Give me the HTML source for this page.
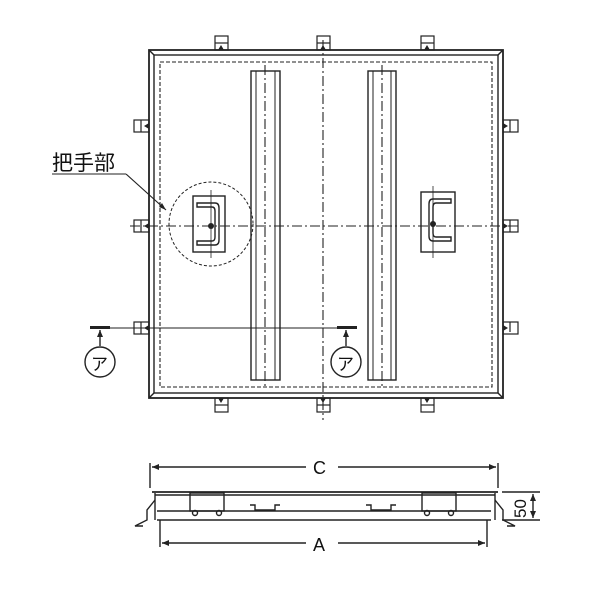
<!DOCTYPE html>
<html><head><meta charset="utf-8"><style>body{margin:0;background:#fff}svg{display:block}</style></head><body>
<svg width="600" height="600" viewBox="0 0 600 600" xmlns="http://www.w3.org/2000/svg" font-family="Liberation Sans, Noto Sans CJK JP, sans-serif">
<g fill="none" stroke="#222" stroke-width="1.4">
<rect x="149" y="50" width="354" height="348" stroke-width="1.8"/>
<rect x="154" y="55" width="344" height="338"/>
<line x1="149" y1="50" x2="154" y2="55"/><line x1="503" y1="50" x2="498" y2="55"/>
<line x1="149" y1="398" x2="154" y2="393"/><line x1="503" y1="398" x2="498" y2="393"/>
<rect x="160" y="62" width="332" height="325" stroke-dasharray="4,2" stroke-width="1.1"/>
<rect x="251" y="71" width="29" height="309"/>
<rect x="256" y="71" width="19" height="309" stroke-width="1"/>
<rect x="368" y="71" width="28" height="309"/>
<rect x="373" y="71" width="18" height="309" stroke-width="1"/>
<g stroke-dasharray="10,3,2,3" stroke-width="1.1">
<line x1="323" y1="40" x2="323" y2="420"/>
<line x1="265" y1="65" x2="265" y2="388"/>
<line x1="382" y1="65" x2="382" y2="388"/>
<line x1="130" y1="226" x2="520" y2="226"/>
</g>
<line x1="93" y1="328" x2="348" y2="328" stroke-width="1"/>
<g stroke-width="1.2">
<rect x="215" y="36" width="13" height="14"/><line x1="215" y1="43" x2="228" y2="43"/>
<rect x="317" y="36" width="13" height="14"/><line x1="317" y1="43" x2="330" y2="43"/>
<rect x="421" y="36" width="13" height="14"/><line x1="421" y1="43" x2="434" y2="43"/>
<rect x="215" y="398" width="13" height="14"/><line x1="215" y1="405" x2="228" y2="405"/>
<rect x="317" y="398" width="13" height="14"/><line x1="317" y1="405" x2="330" y2="405"/>
<rect x="421" y="398" width="13" height="14"/><line x1="421" y1="405" x2="434" y2="405"/>
<rect x="134" y="120" width="15" height="12"/><line x1="141" y1="120" x2="141" y2="132"/>
<rect x="134" y="220" width="15" height="12"/><line x1="141" y1="220" x2="141" y2="232"/>
<rect x="134" y="322" width="15" height="12"/><line x1="141" y1="322" x2="141" y2="334"/>
<rect x="503" y="120" width="15" height="12"/><line x1="510" y1="120" x2="510" y2="132"/>
<rect x="503" y="220" width="15" height="12"/><line x1="510" y1="220" x2="510" y2="232"/>
<rect x="503" y="322" width="15" height="12"/><line x1="510" y1="322" x2="510" y2="332"/>
</g>
<circle cx="211" cy="224" r="42" stroke-dasharray="3,2" stroke-width="1"/>
<rect x="193" y="196" width="32" height="56"/>
<path d="M197 203h18q4 0 4 5v32q0 5-4 5h-18v-4h15q3 0 3-4v-26q0-4-3-4h-15z"/>
<line x1="211" y1="190" x2="211" y2="258" stroke-width="0.8"/>
<rect x="421" y="192" width="34" height="60"/>
<path d="M451 199h-18q-4 0-4 5v32q0 5 4 5h18v-4h-15q-3 0-3-4v-26q0-4 3-4h15z"/>
<line x1="433" y1="186" x2="433" y2="258" stroke-width="0.8"/>
<line x1="52" y1="174" x2="126" y2="174" stroke-width="1.1"/>
<line x1="126" y1="174" x2="166" y2="210" stroke-width="1.1"/>
<line x1="100" y1="330" x2="100" y2="346"/><circle cx="100" cy="362" r="15"/>
<line x1="346" y1="330" x2="346" y2="346"/><circle cx="346" cy="362" r="15"/>
<line x1="150" y1="463" x2="150" y2="488"/><line x1="498" y1="463" x2="498" y2="488"/>
<line x1="152" y1="467" x2="306" y2="467"/><line x1="338" y1="467" x2="496" y2="467"/>
<line x1="160" y1="520" x2="160" y2="547"/><line x1="487" y1="520" x2="487" y2="547"/>
<line x1="162" y1="543" x2="306" y2="543"/><line x1="338" y1="543" x2="485" y2="543"/>
<line x1="502" y1="492" x2="540" y2="492"/><line x1="502" y1="520" x2="540" y2="520"/>
<line x1="533" y1="494" x2="533" y2="518"/>
<line x1="152" y1="492" x2="498" y2="492" stroke-width="1.8"/>
<line x1="155" y1="495" x2="495" y2="495"/>
<line x1="157" y1="511" x2="491" y2="511"/>
<line x1="157" y1="520" x2="491" y2="520"/>
<line x1="155" y1="493" x2="155" y2="520"/><line x1="495" y1="493" x2="495" y2="520"/>
<path d="M155 500l-8 10v10l-12 6h8M495 500l8 10v10l12 6h-8"/>
<rect x="190" y="493" width="34" height="18"/><rect x="422" y="493" width="34" height="18"/>
<path d="M250 505h5v5h20v-5h5M366 505h5v5h20v-5h5"/>
<circle cx="195" cy="513" r="2.5"/><circle cx="219" cy="513" r="2.5"/>
<circle cx="427" cy="513" r="2.5"/><circle cx="451" cy="513" r="2.5"/>
</g>
<g fill="#222">
<rect x="90" y="326" width="20" height="3"/><rect x="337" y="326" width="20" height="3"/>
<path d="M100 330l-3 7h6z M346 330l-3 7h6z"/>
<path d="M166 210l-7-3 3-4z"/>
<path d="M152 467l7-3v6z M496 467l-7-3v6z M162 543l7-3v6z M485 543l-7-3v6z M533 494l-3 7h6z M533 518l-3-7h6z"/>
<path d="M144 126l5-3v6z M144 226l5-3v6z M144 328l5-3v6z M508 126l-5-3v6z M508 226l-5-3v6z M508 328l-5-3v6z"/>
<path d="M221 45l-3 5h6z M323 45l-3 5h6z M427 45l-3 5h6z M221 403l-3-5h6z M323 403l-3-5h6z M427 403l-3-5h6z"/>
<circle cx="211" cy="226" r="3"/><circle cx="433" cy="224" r="3"/>
</g>
<g fill="#111">
<text x="52" y="170" font-size="21">把手部</text>
<text x="91" y="370" font-size="17">ア</text>
<text x="337" y="370" font-size="17">ア</text>
<text x="313" y="474" font-size="18">C</text>
<text x="313" y="551" font-size="18">A</text>
<text transform="translate(526,518) rotate(-90)" font-size="17">50</text>
</g>
</svg>
</body></html>
